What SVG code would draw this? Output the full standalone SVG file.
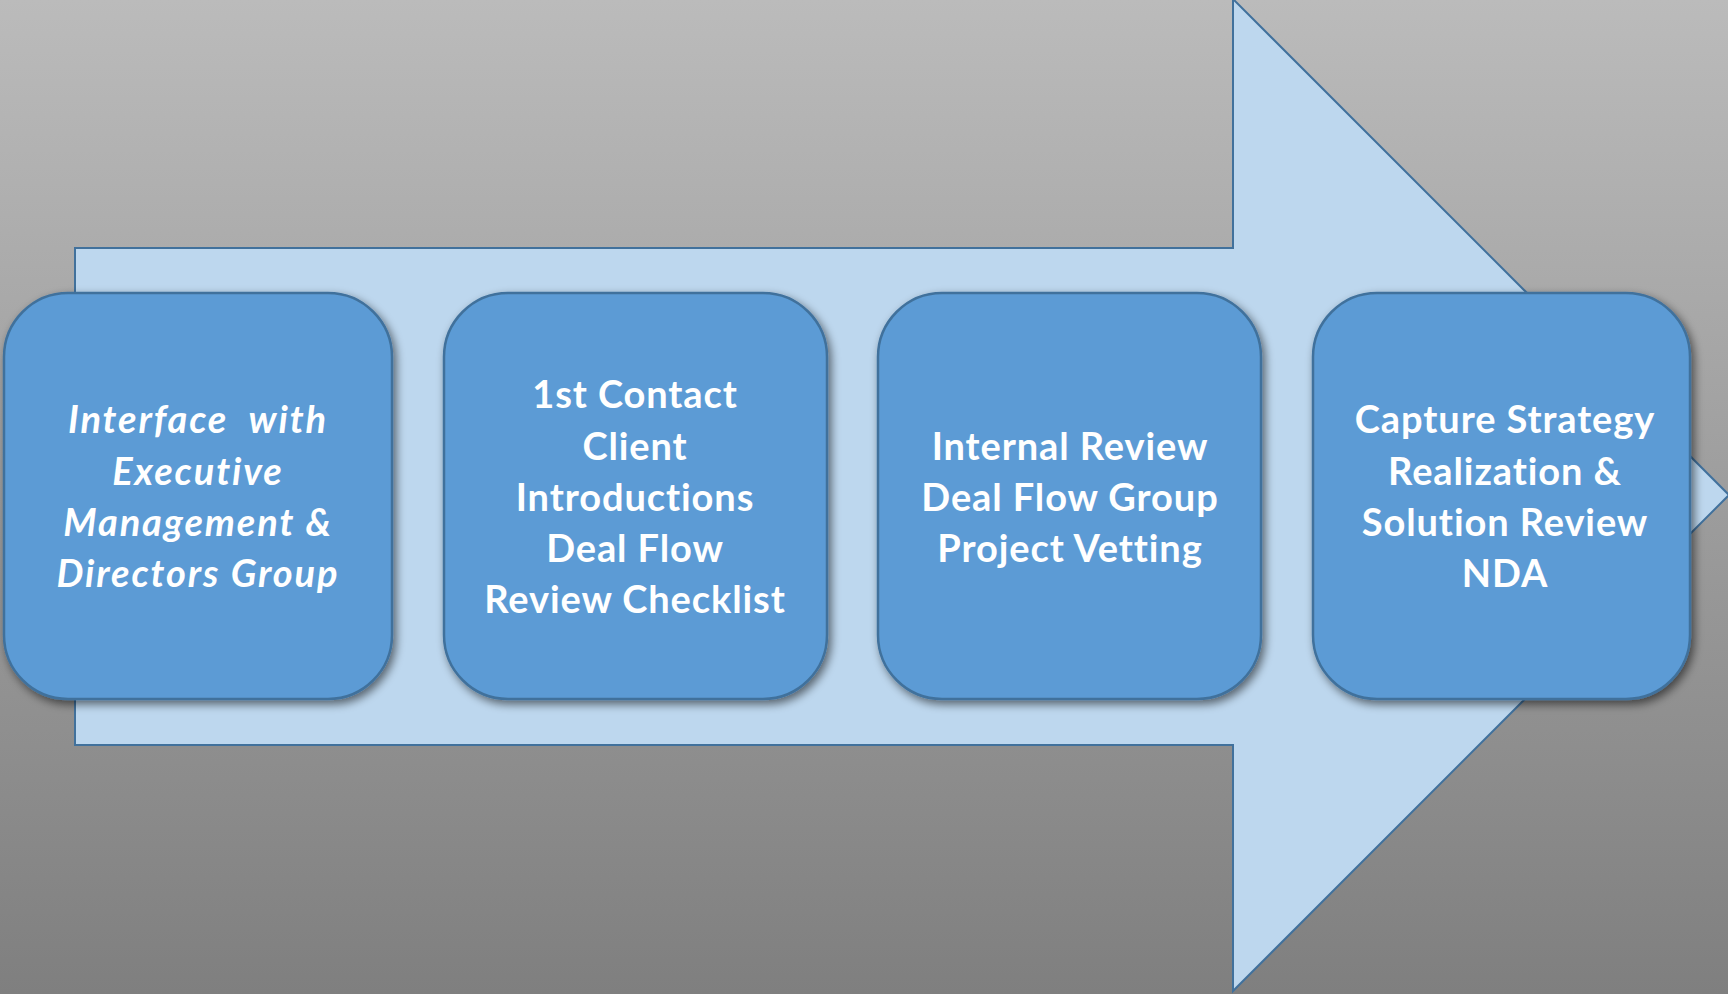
<svg xmlns="http://www.w3.org/2000/svg" width="1728" height="994" viewBox="0 0 1728 994">
  <defs>
    <linearGradient id="bg" x1="0" y1="0" x2="0" y2="1">
      <stop offset="0" stop-color="#bbbbbb"/>
      <stop offset="1" stop-color="#7f7f7f"/>
    </linearGradient>
    <filter id="shadow" x="-10%" y="-10%" width="125%" height="125%">
      <feGaussianBlur in="SourceAlpha" stdDeviation="5"/>
      <feOffset dx="3" dy="4" result="b"/>
      <feComponentTransfer><feFuncA type="linear" slope="0.55"/></feComponentTransfer>
      <feMerge><feMergeNode/><feMergeNode in="SourceGraphic"/></feMerge>
    </filter>
    <style>
      .arrow { fill: #bdd7ee; stroke: #41719c; stroke-width: 2; }
      .box { fill: #5b9bd5; stroke: #41719c; stroke-width: 2.5; filter: url(#shadow); }
      .lbl { fill: #ffffff; font-family: Lato, "Open Sans", "Liberation Sans", sans-serif; font-weight: 700; font-size: 38px; letter-spacing: 0.9px; font-variant-ligatures: none; text-anchor: middle; white-space: pre; }
      .it { font-style: italic; letter-spacing: 1.9px; }
    </style>
  </defs>

  <rect width="1728" height="994" fill="url(#bg)"/>

  <!-- big block arrow behind the steps -->
  <g id="flow-arrow">
    <path class="arrow" d="M75 248 H1233 V-1 L1729 495 L1233 991 V745 H75 Z"/>
  </g>

  <g id="step-1">
    <rect class="box" x="4" y="293" width="388" height="406" rx="64" ry="64"/>
    <text class="lbl it" x="198" y="433" xml:space="preserve">Interface  with</text>
    <text class="lbl it" x="198" y="485">Executive</text>
    <text class="lbl it" x="198" y="536">Management &amp;</text>
    <text class="lbl it" x="198" y="587">Directors Group</text>
  </g>

  <g id="step-2">
    <rect class="box" x="444" y="293" width="383" height="406" rx="64" ry="64"/>
    <text class="lbl" x="635" y="408">1st Contact</text>
    <text class="lbl" x="635" y="460">Client</text>
    <text class="lbl" x="635" y="511">Introductions</text>
    <text class="lbl" x="635" y="562">Deal Flow</text>
    <text class="lbl" x="635" y="613">Review Checklist</text>
  </g>

  <g id="step-3">
    <rect class="box" x="878" y="293" width="383" height="406" rx="64" ry="64"/>
    <text class="lbl" x="1070" y="460">Internal Review</text>
    <text class="lbl" x="1070" y="511">Deal Flow Group</text>
    <text class="lbl" x="1070" y="562">Project Vetting</text>
  </g>

  <g id="step-4">
    <rect class="box" x="1313" y="293" width="377" height="406" rx="64" ry="64"/>
    <text class="lbl" x="1505" y="433">Capture Strategy</text>
    <text class="lbl" x="1505" y="485">Realization &amp;</text>
    <text class="lbl" x="1505" y="536">Solution Review</text>
    <text class="lbl" x="1505" y="587">NDA</text>
  </g>

  <g id="connectors"/>
</svg>
